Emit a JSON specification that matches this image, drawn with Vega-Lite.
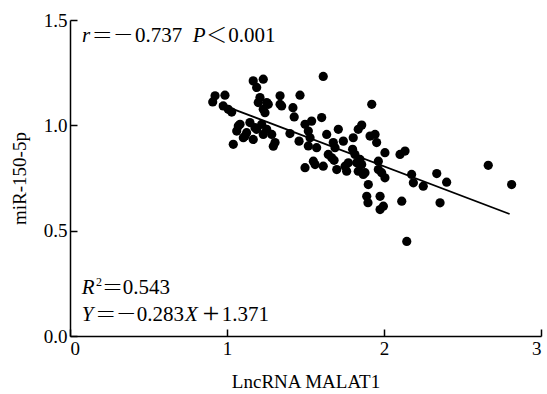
{
  "$schema": "https://vega.github.io/schema/vega-lite/v6.json",
  "width": 471,
  "height": 316,
  "autosize": "none",
  "padding": {"left": 70, "top": 20, "right": 6, "bottom": 58},
  "background": "white",
  "config": {
    "view": {"stroke": null},
    "font": "Liberation Serif",
    "axis": {"grid": false, "domainColor": "black", "domainWidth": 1.5, "tickColor": "black", "tickWidth": 1.5, "labelColor": "black", "titleColor": "black", "labelFont": "Liberation Serif", "titleFont": "Liberation Serif", "labelFontSize": 19, "titleFontSize": 19, "titleFontWeight": "normal"}
  },
  "datasets": {
    "pts": [
      {"x": 0.924, "y": 1.140}, {"x": 0.987, "y": 1.143}, {"x": 0.909, "y": 1.111}, {"x": 0.976, "y": 1.092},
      {"x": 1.008, "y": 1.076}, {"x": 1.030, "y": 1.063}, {"x": 1.167, "y": 1.211}, {"x": 1.231, "y": 1.219},
      {"x": 1.189, "y": 1.180}, {"x": 1.613, "y": 1.232}, {"x": 1.210, "y": 1.132}, {"x": 1.199, "y": 1.108},
      {"x": 1.263, "y": 1.100}, {"x": 1.338, "y": 1.140}, {"x": 1.348, "y": 1.092}, {"x": 1.420, "y": 1.084},
      {"x": 1.465, "y": 1.143}, {"x": 1.428, "y": 1.040}, {"x": 1.242, "y": 1.060}, {"x": 1.072, "y": 0.997},
      {"x": 1.146, "y": 1.013}, {"x": 1.189, "y": 0.981}, {"x": 1.115, "y": 0.949}, {"x": 1.062, "y": 0.973},
      {"x": 1.167, "y": 0.933}, {"x": 1.040, "y": 0.910}, {"x": 1.253, "y": 0.981}, {"x": 1.285, "y": 0.957},
      {"x": 1.306, "y": 0.918}, {"x": 1.401, "y": 0.961}, {"x": 1.497, "y": 1.005}, {"x": 1.539, "y": 1.020},
      {"x": 1.603, "y": 1.037}, {"x": 1.518, "y": 0.973}, {"x": 1.459, "y": 0.925}, {"x": 1.518, "y": 0.902},
      {"x": 1.571, "y": 0.894}, {"x": 1.635, "y": 0.957}, {"x": 1.709, "y": 0.981}, {"x": 1.677, "y": 0.918},
      {"x": 1.741, "y": 0.925}, {"x": 1.804, "y": 0.941}, {"x": 1.858, "y": 1.001}, {"x": 1.800, "y": 0.886},
      {"x": 1.497, "y": 0.799}, {"x": 1.561, "y": 0.814}, {"x": 1.613, "y": 0.806}, {"x": 1.682, "y": 0.834},
      {"x": 1.752, "y": 0.806}, {"x": 1.826, "y": 0.822}, {"x": 1.879, "y": 0.775}, {"x": 1.922, "y": 1.100},
      {"x": 1.836, "y": 0.981}, {"x": 1.529, "y": 0.941}, {"x": 1.911, "y": 0.949}, {"x": 1.943, "y": 0.957},
      {"x": 1.953, "y": 0.918}, {"x": 2.006, "y": 0.870}, {"x": 2.102, "y": 0.862}, {"x": 2.134, "y": 0.878},
      {"x": 1.815, "y": 0.862}, {"x": 1.847, "y": 0.838}, {"x": 1.550, "y": 0.830}, {"x": 1.699, "y": 0.790},
      {"x": 1.762, "y": 0.782}, {"x": 1.836, "y": 0.782}, {"x": 1.858, "y": 0.814}, {"x": 1.868, "y": 0.767},
      {"x": 1.964, "y": 0.830}, {"x": 1.964, "y": 0.790}, {"x": 2.006, "y": 0.751}, {"x": 1.900, "y": 0.719},
      {"x": 1.890, "y": 0.663}, {"x": 1.898, "y": 0.633}, {"x": 1.975, "y": 0.663}, {"x": 1.996, "y": 0.616},
      {"x": 1.975, "y": 0.600}, {"x": 2.113, "y": 0.640}, {"x": 2.145, "y": 0.449}, {"x": 2.176, "y": 0.767},
      {"x": 2.187, "y": 0.727}, {"x": 2.250, "y": 0.711}, {"x": 2.336, "y": 0.771}, {"x": 2.399, "y": 0.730},
      {"x": 2.357, "y": 0.632}, {"x": 2.664, "y": 0.810}, {"x": 2.813, "y": 0.719},
      {"x": 1.083, "y": 1.005}, {"x": 1.178, "y": 0.989}, {"x": 1.221, "y": 1.005}, {"x": 1.125, "y": 0.965},
      {"x": 1.104, "y": 0.941}, {"x": 1.231, "y": 0.957}, {"x": 1.295, "y": 0.901}, {"x": 1.253, "y": 1.108},
      {"x": 1.231, "y": 1.076}, {"x": 1.338, "y": 1.100}, {"x": 1.667, "y": 0.846}, {"x": 1.645, "y": 0.862},
      {"x": 1.773, "y": 0.822}, {"x": 1.688, "y": 0.894}, {"x": 1.985, "y": 0.775}
    ],
    "fit": [{"x": 0.95, "y": 1.102}, {"x": 2.8, "y": 0.579}],
    "ann_i": [
      {"x": 0.0764, "y": 1.397, "t": "r"},
      {"x": 0.782, "y": 1.397, "t": "P"},
      {"x": 0.0745, "y": 0.199, "t": "R"},
      {"x": 0.0745, "y": 0.0714, "t": "Y"},
      {"x": 0.732, "y": 0.0714, "t": "X"}
    ],
    "ann_n": [
      {"x": 0.414, "y": 1.397, "t": "0.737"},
      {"x": 1.008, "y": 1.397, "t": "0.001"},
      {"x": 0.336, "y": 0.199, "t": "0.543"},
      {"x": 0.425, "y": 0.0714, "t": "0.283"},
      {"x": 0.966, "y": 0.0714, "t": "1.371"}
    ],
    "ann_sym": [
      {"x": 0.205, "y": 1.397, "t": "＝"},
      {"x": 0.339, "y": 1.397, "t": "－"},
      {"x": 0.934, "y": 1.397, "t": "＜"},
      {"x": 0.271, "y": 0.199, "t": "＝"},
      {"x": 0.228, "y": 0.0714, "t": "＝"},
      {"x": 0.359, "y": 0.0714, "t": "－"}
    ],
    "ann_plus": [
      {"x": 0.897, "y": 0.0714, "t": "+"}
    ],
    "ann_s": [
      {"x": 0.166, "y": 0.238, "t": "2"}
    ]
  },
  "encoding": {
    "x": {"field": "x", "type": "quantitative", "scale": {"domain": [0, 3], "nice": false, "zero": false}, "axis": {"title": "LncRNA MALAT1", "values": [0, 1, 2, 3], "format": "d", "tickSize": -7, "labelPadding": 10, "titlePadding": 14}},
    "y": {"field": "y", "type": "quantitative", "scale": {"domain": [0, 1.5], "nice": false, "zero": false}, "axis": {"title": "miR-150-5p", "values": [0, 0.5, 1, 1.5], "format": ".1f", "tickSize": -7, "labelPadding": 10, "titlePadding": 14}}
  },
  "layer": [
    {"data": {"name": "pts"}, "mark": {"type": "circle", "color": "black", "opacity": 1, "size": 85}},
    {"data": {"name": "fit"}, "mark": {"type": "line", "color": "black", "strokeWidth": 1.8}},
    {"data": {"name": "ann_i"}, "mark": {"type": "text", "align": "left", "baseline": "alphabetic", "fontSize": 21, "fontStyle": "italic", "color": "black"}, "encoding": {"text": {"field": "t"}}},
    {"data": {"name": "ann_n"}, "mark": {"type": "text", "align": "left", "baseline": "alphabetic", "fontSize": 21, "color": "black"}, "encoding": {"text": {"field": "t"}}},
    {"data": {"name": "ann_sym"}, "mark": {"type": "text", "align": "center", "baseline": "alphabetic", "font": "Noto Sans CJK SC", "fontSize": 21, "fontWeight": 300, "color": "black"}, "encoding": {"text": {"field": "t"}}},
    {"data": {"name": "ann_plus"}, "mark": {"type": "text", "align": "center", "baseline": "alphabetic", "font": "Liberation Serif", "fontSize": 30, "dy": 2, "color": "black"}, "encoding": {"text": {"field": "t"}}},
    {"data": {"name": "ann_s"}, "mark": {"type": "text", "align": "left", "baseline": "alphabetic", "fontSize": 12, "color": "black"}, "encoding": {"text": {"field": "t"}}}
  ]
}
